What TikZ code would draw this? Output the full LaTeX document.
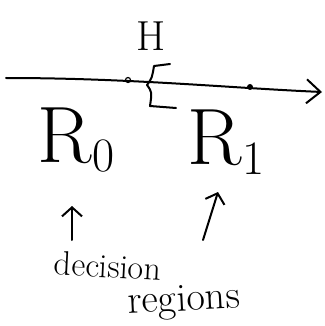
\documentclass[tikz,border=0pt]{standalone}
\usepackage{fontspec}
\usetikzlibrary{positioning,arrows.meta}
\newcommand{\lowsub}[1]{\raisebox{-0.12em}{\fontsize{48}{48}\selectfont #1}}
\begin{document}
\begin{tikzpicture}[x=1pt,y=-1pt,line join=round,line cap=round,>={Straight Barb[length=9pt,width=20pt]},line width=2pt]
			\tikzset{every node/.style={inner sep=0pt},
				bigtxt/.style={font=\fontsize{80}{80}\selectfont},
				handtxt/.style={font=\fontsize{34}{34}\selectfont}}
			\useasboundingbox (0,0) rectangle (324,326);
			\coordinate (start) at (6,78);
			\coordinate (end) at (322,92);
			\draw[-{Straight Barb[length=14pt,width=24pt]}] (start) .. controls (130,78) and (230,88) .. (end);
			\node[circle,draw,line width=1.2pt,minimum size=5pt] (open) at (128,80) {};
			\fill (250,87) circle (3pt) coordinate (dot);
			\draw (170,64)--(154,66) .. controls (152,78) .. (147,85) .. controls (152,92) .. (150,106)--(176,108);
			\node[handtxt,font=\fontsize{42}{42}\selectfont] (H) at (151,36) {H};
			\node[bigtxt] (R0) at (76,140) {R\lowsub{0}};
			\node[bigtxt] (R1) at (226,142) {R\lowsub{1}};
			\node[handtxt,rotate=-3] (dec) at (108,266) {decision};
			\node[handtxt,rotate=3,font=\fontsize{40}{40}\selectfont] (reg) at (184,302) {regions};
			\draw[->] (72,240)--(72,206);
			\draw[->] (203,240)--(218,192);
		\end{tikzpicture}
\end{document}
